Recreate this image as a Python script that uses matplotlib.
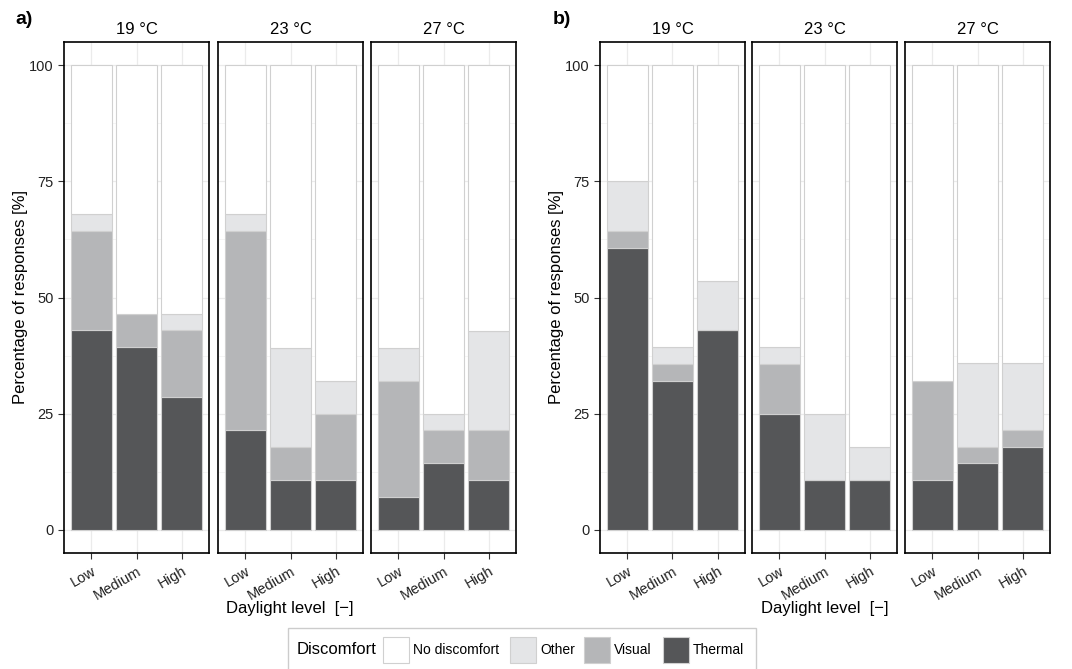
import numpy as np
import matplotlib.pyplot as plt
from matplotlib.patches import Rectangle

levels = ["Low", "Medium", "High"]
temps = ["19 °C", "23 °C", "27 °C"]
categories = ["No discomfort", "Other", "Visual", "Thermal"]
colors = ["#ffffff", "#e4e5e7", "#b5b6b8", "#555658"]

# percentages per panel group: [temperature][daylight level]
thermal_a = [[42.9, 39.3, 28.6], [21.4, 10.7, 10.7], [7.1, 14.3, 10.7]]
visual_a = [[21.4, 7.1, 14.3], [42.9, 7.1, 14.3], [25.0, 7.1, 10.7]]
other_a = [[3.6, 0.0, 3.6], [3.6, 21.4, 7.1], [7.1, 3.6, 21.4]]

thermal_b = [[60.7, 32.1, 42.9], [25.0, 10.7, 10.7], [10.7, 14.3, 17.9]]
visual_b = [[3.6, 3.6, 0.0], [10.7, 0.0, 0.0], [21.4, 3.6, 3.6]]
other_b = [[10.7, 3.6, 10.7], [3.6, 14.3, 7.1], [0.0, 17.9, 14.3]]

W, H = 1072, 669
plt.rcParams['font.family'] = ['Liberation Sans', 'DejaVu Sans']
fig = plt.figure(figsize=(W / 100, H / 100), dpi=100)

def px_axes(x0, y0, x1, y1):
    return fig.add_axes([x0 / W, 1 - y1 / H, (x1 - x0) / W, (y1 - y0) / H])

def draw_group(lefts, thermal, visual, other):
    x = np.arange(1, 4)
    for i, x0 in enumerate(lefts):
        ax = px_axes(x0, 42, x0 + 145, 553)
        th = np.array(thermal[i])
        vi = np.array(visual[i])
        ot = np.array(other[i])
        no = 100 - th - vi - ot
        bottom = np.zeros(3)
        for vals, c in zip([th, vi, ot, no], colors[::-1]):
            ax.bar(x, vals, 0.9, bottom=bottom, color=c, edgecolor="#d0d0d0",
                   linewidth=0.8, zorder=3)
            bottom = bottom + vals
        ax.set_xlim(0.4, 3.6)
        ax.set_ylim(-5, 105)
        ax.set_yticks([0, 25, 50, 75, 100])
        ax.set_yticks([12.5, 37.5, 62.5, 87.5], minor=True)
        ax.set_xticks(x)
        ax.set_xticklabels(levels, rotation=30, ha="right", rotation_mode="anchor",
                           fontsize=10.5, color="#222222")
        ax.grid(True, which="major", color="#ebebeb", linewidth=0.9, zorder=0)
        ax.grid(True, which="minor", axis="y", color="#f4f4f4", linewidth=0.6, zorder=0)
        ax.tick_params(axis="both", which="major", length=4, width=0.8, color="#333333")
        ax.tick_params(axis="y", which="minor", length=0)
        ax.tick_params(axis="x", pad=4)
        for s in ax.spines.values():
            s.set_linewidth(1.2)
            s.set_color("black")
        if i == 0:
            ax.set_yticklabels(["0", "25", "50", "75", "100"], fontsize=10.5, color="#222222")
            ax.set_ylabel("Percentage of responses [%]", fontsize=12, labelpad=1)
        else:
            ax.tick_params(axis="y", which="both", left=False, labelleft=False)
        ax.set_title(temps[i], fontsize=12, pad=6)
    mid = (lefts[0] + lefts[-1] + 145) / 2
    fig.text(mid / W, 1 - 609 / H, "Daylight level  [−]", ha="center", va="center",
             fontsize=12)

draw_group([64, 218, 371], thermal_a, visual_a, other_a)
draw_group([600, 752, 905], thermal_b, visual_b, other_b)

# overlay in pixel coordinates for panel tags and the legend
ov = fig.add_axes([0, 0, 1, 1], zorder=10)
ov.set_xlim(0, W)
ov.set_ylim(H, 0)
ov.axis("off")
ov.patch.set_alpha(0)
ov.text(15, 19, "a)", fontsize=14, fontweight="bold", va="center", ha="left")
ov.text(553, 19, "b)", fontsize=14, fontweight="bold", va="center", ha="left")

ov.add_patch(Rectangle((288, 628), 468, 44, facecolor="white", edgecolor="#cccccc",
                       linewidth=1.0, clip_on=False))
ov.text(297, 650, "Discomfort", fontsize=12, va="center", ha="left")
key_x = [383, 510, 584, 663]
for kx, c, lab in zip(key_x, colors, categories):
    ov.add_patch(Rectangle((kx, 637), 26, 26, facecolor=c, edgecolor="#d0d0d0",
                           linewidth=0.8))
    ov.text(kx + 30, 650, lab, fontsize=10, va="center", ha="left")

fig.savefig("out.png", dpi=100)
